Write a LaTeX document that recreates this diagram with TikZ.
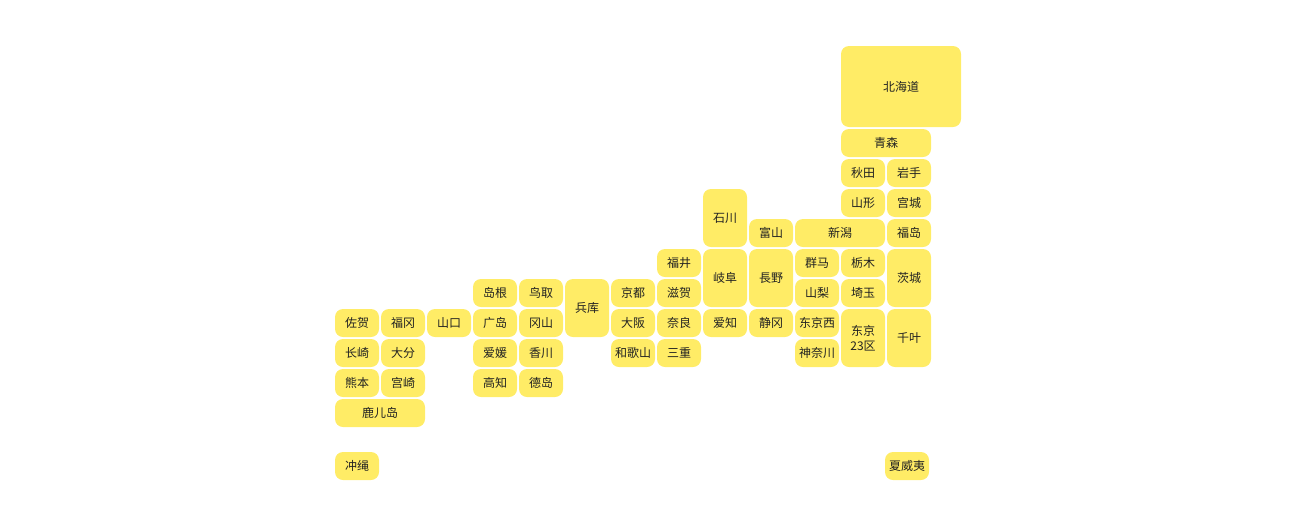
\documentclass[tikz,border=0pt]{standalone}
\usepackage{fontspec}
\setmainfont{Noto Sans CJK SC}
\definecolor{pref}{RGB}{255,236,102}
\definecolor{txt}{RGB}{34,34,34}
\tikzset{
  prefbox/.style={fill=pref, draw=none, rounded corners=6pt, inner sep=0pt, outer sep=0pt,
    text=txt, font=\fontsize{9pt}{11.25pt}\selectfont, align=center}
}
% name, col, row, colspan, rowspan, text
\newcommand\prefnode[6]{%
  \node[prefbox, minimum width={(46*#4-2)*0.75pt}, minimum height={(30*#5-2)*0.75pt}]
    (#1) at ({335+46*#2+(46*#4-2)/2},{129+30*#3+(30*#5-2)/2}) {#6};}
\begin{document}
\begin{tikzpicture}[x=0.75pt,y=-0.75pt]
\useasboundingbox (0,0) rectangle (1300,515);
% Hokkaido
\node[prefbox, minimum width=90pt, minimum height=60.75pt] (hokkaido) at (901,86.5) {北海道};
\prefnode{aomori}{11}{0}{2}{1}{青森}
\prefnode{akita}{11}{1}{1}{1}{秋田}
\prefnode{iwate}{12}{1}{1}{1}{岩手}
\prefnode{yamagata}{11}{2}{1}{1}{山形}
\prefnode{miyagi}{12}{2}{1}{1}{宫城}
\prefnode{ishikawa}{8}{2}{1}{2}{石川}
\prefnode{toyama}{9}{3}{1}{1}{富山}
\prefnode{niigata}{10}{3}{2}{1}{新潟}
\prefnode{fukushima}{12}{3}{1}{1}{福岛}
\prefnode{fukui}{7}{4}{1}{1}{福井}
\prefnode{gifu}{8}{4}{1}{2}{岐阜}
\prefnode{nagano}{9}{4}{1}{2}{長野}
\prefnode{gunma}{10}{4}{1}{1}{群马}
\prefnode{tochigi}{11}{4}{1}{1}{栃木}
\prefnode{ibaraki}{12}{4}{1}{2}{茨城}
\prefnode{shimane}{3}{5}{1}{1}{岛根}
\prefnode{tottori}{4}{5}{1}{1}{鸟取}
\prefnode{hyogo}{5}{5}{1}{2}{兵库}
\prefnode{kyoto}{6}{5}{1}{1}{京都}
\prefnode{shiga}{7}{5}{1}{1}{滋贺}
\prefnode{yamanashi}{10}{5}{1}{1}{山梨}
\prefnode{saitama}{11}{5}{1}{1}{埼玉}
\prefnode{saga}{0}{6}{1}{1}{佐贺}
\prefnode{fukuoka}{1}{6}{1}{1}{福冈}
\prefnode{yamaguchi}{2}{6}{1}{1}{山口}
\prefnode{hiroshima}{3}{6}{1}{1}{广岛}
\prefnode{okayama}{4}{6}{1}{1}{冈山}
\prefnode{osaka}{6}{6}{1}{1}{大阪}
\prefnode{nara}{7}{6}{1}{1}{奈良}
\prefnode{aichi}{8}{6}{1}{1}{爱知}
\prefnode{shizuoka}{9}{6}{1}{1}{静冈}
\prefnode{tokyowest}{10}{6}{1}{1}{东京西}
\prefnode{tokyo}{11}{6}{1}{2}{东京\\23区}
\prefnode{chiba}{12}{6}{1}{2}{千叶}
\prefnode{nagasaki}{0}{7}{1}{1}{长崎}
\prefnode{oita}{1}{7}{1}{1}{大分}
\prefnode{ehime}{3}{7}{1}{1}{爱媛}
\prefnode{kagawa}{4}{7}{1}{1}{香川}
\prefnode{wakayama}{6}{7}{1}{1}{和歌山}
\prefnode{mie}{7}{7}{1}{1}{三重}
\prefnode{kanagawa}{10}{7}{1}{1}{神奈川}
\prefnode{kumamoto}{0}{8}{1}{1}{熊本}
\prefnode{miyazaki}{1}{8}{1}{1}{宫崎}
\prefnode{kochi}{3}{8}{1}{1}{高知}
\prefnode{tokushima}{4}{8}{1}{1}{德岛}
\prefnode{kagoshima}{0}{9}{2}{1}{鹿儿岛}
% Okinawa and Hawaii
\node[prefbox, minimum width=33pt, minimum height=21pt] (okinawa) at (357,466) {冲绳};
\node[prefbox, minimum width=33pt, minimum height=21pt] (hawaii) at (907,466) {夏威夷};
\end{tikzpicture}
\end{document}
